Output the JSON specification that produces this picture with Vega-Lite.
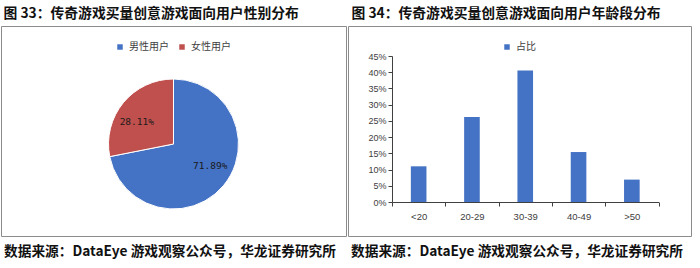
{
  "$schema": "https://vega.github.io/schema/vega-lite/v6.json",
  "background": "white",
  "padding": {"top": 6, "left": 0, "right": 0, "bottom": 0},
  "spacing": 0,
  "resolve": {"scale": {"color": "independent"}, "legend": {"color": "independent"}},
  "config": {
    "font": "Noto Sans CJK SC",
    "view": {"stroke": "#8c8c8c", "strokeWidth": 1},
    "concat": {"spacing": 0},
    "title": {"font": "Noto Sans CJK SC", "fontSize": 13.8, "fontWeight": "bold", "color": "#111111", "anchor": "start"},
    "legend": {"labelFont": "Noto Sans CJK SC", "labelFontSize": 10, "labelColor": "#404040", "symbolType": "square", "symbolSize": 30, "symbolStrokeWidth": 0}
  },
  "hconcat": [
    {
      "title": {"text": "图 33：传奇游戏买量创意游戏面向用户性别分布", "dx": 3, "offset": 5},
      "vconcat": [
        {
          "width": 345,
          "height": 210,
          "title": {"text": "数据来源：DataEye 游戏观察公众号，华龙证券研究所", "orient": "bottom", "offset": 9, "dx": 3, "fontSize": 13.7},
          "data": {"values": [
            {"gender": "男性用户", "share": 0.7189},
            {"gender": "女性用户", "share": 0.2811}
          ]},
          "resolve": {"scale": {"theta": "independent"}},
          "encoding": {
            "x": {"datum": 0, "type": "quantitative", "scale": {"domain": [-1, 1]}, "axis": null},
            "y": {"datum": 0, "type": "quantitative", "scale": {"domain": [-1, 1]}, "axis": null}
          },
          "layer": [
            {
              "mark": {"type": "arc", "outerRadius": 65, "stroke": "white", "strokeWidth": 1, "yOffset": 13},
              "encoding": {
                "theta": {"field": "share", "type": "quantitative", "stack": true},
                "order": {"field": "share", "type": "quantitative", "sort": "descending"},
                "color": {
                  "field": "gender", "type": "nominal", "sort": null,
                  "scale": {"domain": ["男性用户", "女性用户"], "range": ["#4472C4", "#C0504D"]},
                  "legend": {"orient": "none", "legendX": 114, "legendY": 16, "direction": "horizontal", "title": null, "columnPadding": 8}
                }
              }
            },
            {
              "mark": {"type": "text", "radius": 43, "yOffset": 13, "font": "DejaVu Sans Mono", "fontSize": 9.5, "color": "#1a1a1a"},
              "encoding": {
                "theta": {"field": "share", "type": "quantitative", "stack": true, "scale": {"range": [-0.14, 6.1432]}},
                "order": {"field": "share", "type": "quantitative", "sort": "descending"},
                "text": {"field": "share", "type": "quantitative", "format": ".2%"}
              }
            }
          ]
        }
      ]
    },
    {
      "title": {"text": "图 34：传奇游戏买量创意游戏面向用户年龄段分布", "dx": 4, "offset": 5},
      "vconcat": [
        {
          "width": 343,
          "height": 210,
          "title": {"text": "数据来源：DataEye 游戏观察公众号，华龙证券研究所", "orient": "bottom", "offset": 9, "dx": 3, "fontSize": 13.7},
          "data": {"values": [
            {"age": "<20", "share": 0.110},
            {"age": "20-29", "share": 0.262},
            {"age": "30-39", "share": 0.405},
            {"age": "40-49", "share": 0.154},
            {"age": ">50", "share": 0.069}
          ]},
          "mark": {"type": "bar", "width": {"band": 0.293}},
          "encoding": {
            "x": {
              "field": "age", "type": "nominal", "sort": null,
              "scale": {"range": [44, 310.5], "paddingInner": 0, "paddingOuter": 0},
              "axis": {"title": null, "orient": "bottom", "offset": -34, "tickBand": "extent", "labelAngle": 0, "domainColor": "#404040", "tickColor": "#404040", "tickSize": 4, "labelPadding": 5, "labelFont": "Liberation Sans", "labelFontSize": 9.5, "labelColor": "#404040"}
            },
            "y": {
              "field": "share", "type": "quantitative",
              "scale": {"domain": [0, 0.45], "range": [176, 30], "nice": false, "zero": true},
              "axis": {"title": null, "offset": -44, "values": [0, 0.05, 0.1, 0.15, 0.2, 0.25, 0.3, 0.35, 0.4, 0.45], "format": ".0%", "grid": false, "domainColor": "#404040", "tickColor": "#404040", "tickSize": 4, "labelPadding": 2, "labelFont": "Liberation Sans", "labelFontSize": 9, "labelColor": "#404040"}
            },
            "color": {
              "datum": "占比",
              "scale": {"range": ["#4472C4"]},
              "legend": {"orient": "none", "legendX": 154, "legendY": 16, "direction": "horizontal", "title": null}
            }
          }
        }
      ]
    }
  ]
}
